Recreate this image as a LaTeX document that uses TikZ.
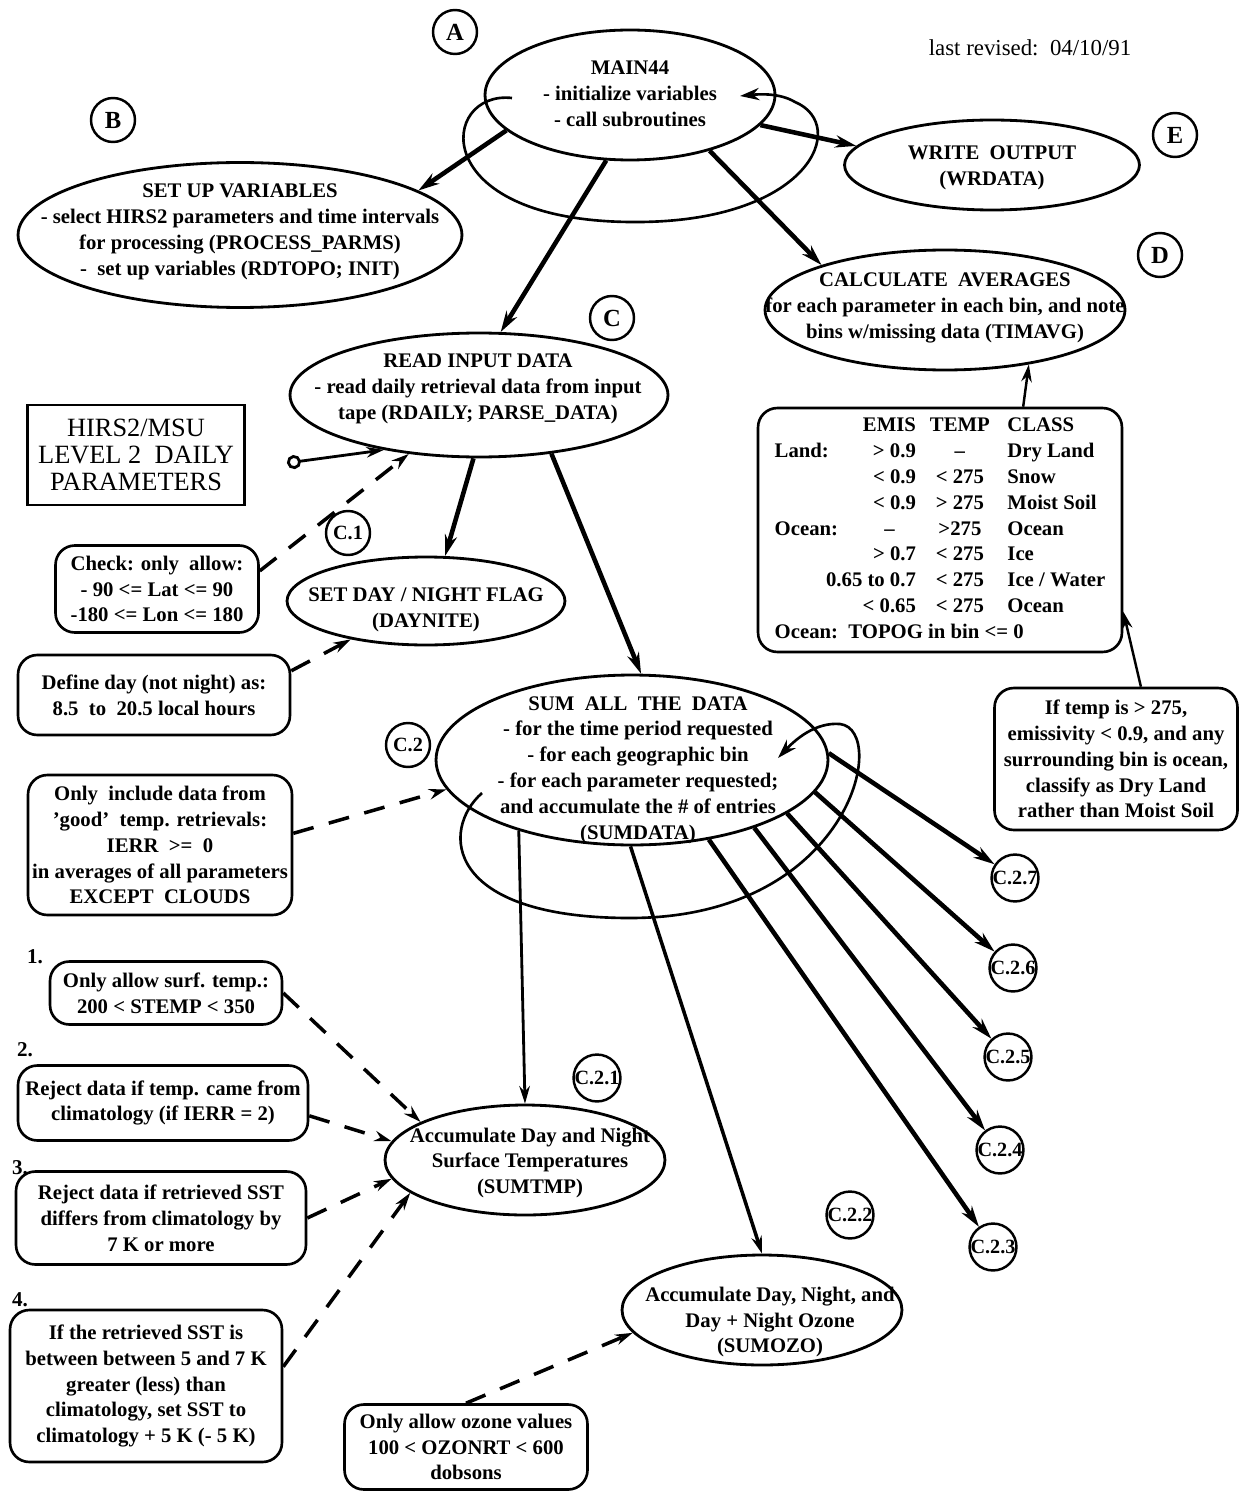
\documentclass[tikz,border=0pt]{standalone}
\usepackage{fontspec}
\setmainfont{Liberation Serif}
\usepackage{tikz}
\usetikzlibrary{shapes.geometric}
\usetikzlibrary{arrows.meta}
\tikzset{
  proc/.style 2 args={draw, ellipse, line width=1.6pt, inner sep=0pt,
    minimum width=#1, minimum height=#2},
  txt/.style={align=center, inner sep=0pt,
    font=\bfseries\fontsize{11.8}{14.7}\selectfont},
  note/.style 2 args={draw, rounded corners=11pt, line width=1.5pt, align=center,
    inner sep=0pt, minimum width=#1, minimum height=#2,
    font=\bfseries\fontsize{11.8}{14.7}\selectfont},
  src/.style={draw, line width=1.3pt, align=center, inner sep=0pt,
    minimum width=4.34cm, minimum height=2cm, font=\fontsize{15}{15.5}\selectfont},
  tag/.style={draw, circle, line width=1.4pt, inner sep=0pt, minimum size=0.88cm,
    font=\bfseries\fontsize{14}{16}\selectfont},
  subtag/.style={tag, font=\bfseries\fontsize{11.5}{14}\selectfont},
  num/.style={inner sep=0pt, font=\bfseries\fontsize{12}{14}\selectfont},
  call/.style={line width=2.6pt, -{Stealth[length=12pt,width=7pt]}},
  subcall/.style={line width=1.4pt, -{Stealth[length=10pt,width=6pt]}},
  loopcall/.style={line width=1.5pt, -{Stealth[length=11pt,width=7pt]}},
  check/.style={line width=2pt, dash pattern=on 12pt off 9pt,
    -{Stealth[length=10pt,width=6pt]}},
}

\begin{document}
\begin{tikzpicture}[x=0.02cm, y=-0.02cm]
	\useasboundingbox (0,0) rectangle (1241,1493);
	\node[tag] (tA) at (455,32) {A};
	\node[font=\fontsize{13}{15}\selectfont] (rev) at (1030,48) {last revised:\ \ 04/10/91};
	\node[proc={5.8cm}{2.6cm}] (main) at (630,95) {};
	\node[txt] (mainT) at (630,94) {MAIN44\\- initialize variables\\- call subroutines};
	\draw[loopcall] (512,98) .. controls (440,90) and (425,220) .. (630,222) .. controls (810,224) and (850,125) .. (795,102) .. controls (780,93) and (760,94) .. (740,96);
	\node[tag] (tB) at (113,120) {B};
	\node[proc={8.88cm}{2.9cm}] (setup) at (240,235) {};
	\node[txt] (setupT) at (240,232) {SET UP VARIABLES\\- select HIRS2 parameters and time intervals\\for processing (PROCESS\_PARMS)\\-\ \ set up variables (RDTOPO; INIT)};
	\node[tag] (tE) at (1175,135) {E};
	\node[proc={5.9cm}{1.8cm}] (wrout) at (992,165) {};
	\node[txt] (wroutT) at (992,168) {WRITE\ \ OUTPUT\\(WRDATA)};
	\node[tag] (tD) at (1160,255) {D};
	\node[proc={7.2cm}{2.4cm}] (avg) at (945,310) {};
	\node[txt] (avgT) at (945,308) {CALCULATE\ \ AVERAGES\\for each parameter in each bin, and note\\bins w/missing data (TIMAVG)};
	\node[tag] (tC) at (612,318) {C};
	\node[proc={7.56cm}{2.48cm}] (readin) at (479,395) {};
	\node[txt] (readinT) at (478,389) {READ INPUT DATA\\- read daily retrieval data from input\\tape (RDAILY; PARSE\_DATA)};
	\node[src] (hirs) at (136,455) {HIRS2/MSU\\LEVEL 2\ \ DAILY\\PARAMETERS};
	\coordinate (tape) at (287,463);
	\node[note={7.28cm}{4.88cm}] (emis) at (940,530) {\begin{tabular}{@{}l@{\hspace{14pt}}r@{\hspace{8pt}}c@{\hspace{10pt}}l@{}}
		& EMIS & TEMP & CLASS\\
		Land: & > 0.9 & -- & Dry Land\\
		& < 0.9 & < 275 & Snow\\
		& < 0.9 & > 275 & Moist Soil\\
		Ocean: & --\hspace{12pt} & >275 & Ocean\\
		& > 0.7 & < 275 & Ice\\
		\multicolumn{2}{@{}r@{\hspace{8pt}}}{0.65 to 0.7} & < 275 & Ice / Water\\
		& < 0.65 & < 275 & Ocean\\
		\multicolumn{4}{@{}l@{}}{Ocean:\ \ TOPOG in bin <= 0}
	\end{tabular}};
	\node[note={4.86cm}{2.84cm}] (dryland) at (1116,759) {If temp is > 275,\\emissivity < 0.9, and any\\surrounding bin is ocean,\\classify as Dry Land\\rather than Moist Soil};
	\node[subtag] (tC1) at (348,533) {C.1};
	\node[proc={5.56cm}{1.76cm}] (daynite) at (426,601) {};
	\node[txt] (dayniteT) at (426,610) {SET DAY / NIGHT FLAG\\(DAYNITE)};
	\node[note={4.06cm}{1.74cm}] (chk) at (157,589) {Check: only\ \ allow:\\- 90 <= Lat <= 90\\-180 <= Lon <= 180};
	\node[note={5.44cm}{1.6cm}] (dayd) at (154,695) {Define day (not night) as:\\8.5\ \ to\ \ 20.5 local hours};
	\node[subtag] (tC2) at (408,745) {C.2};
	\node[proc={7.84cm}{3.4cm}] (sum) at (632,760) {};
	\node[txt] (sumT) at (638,770) {SUM\ \ ALL\ \ THE\ \ DATA\\- for the time period requested\\- for each geographic bin\\- for each parameter requested;\\and accumulate the \# of entries\\(SUMDATA)};
	\node[note={5.28cm}{2.8cm}] (good) at (160,845) {Only\ \ include data from\\'good'\ \ temp. retrievals:\\IERR\ \ >=\ \ 0\\in averages of all parameters\\EXCEPT\ \ CLOUDS};
	\node[subtag] (tC27) at (1015,878) {C.2.7};
	\node[subtag] (tC26) at (1013,968) {C.2.6};
	\node[subtag] (tC25) at (1008,1057) {C.2.5};
	\node[subtag] (tC24) at (1000,1150) {C.2.4};
	\node[subtag] (tC23) at (993,1247) {C.2.3};
	\node[subtag] (tC21) at (597,1078) {C.2.1};
	\node[subtag] (tC22) at (850,1215) {C.2.2};
	\node[proc={5.6cm}{2.2cm}] (sumtmp) at (525,1160) {};
	\node[txt] (sumtmpT) at (530,1163) {Accumulate Day and Night\\Surface Temperatures\\(SUMTMP)};
	\node[proc={5.6cm}{2.2cm}] (sumozo) at (762,1310) {};
	\node[txt] (sumozoT) at (770,1322) {Accumulate Day, Night, and\\Day + Night Ozone\\(SUMOZO)};
	\node[num] (n1) at (35,957) {1.};
	\node[note={4.64cm}{1.26cm}] (stemp) at (166,993) {Only allow surf. temp.:\\200 < STEMP < 350};
	\node[num] (n2) at (25,1050) {2.};
	\node[note={5.8cm}{1.5cm}] (clim) at (163,1103) {Reject data if temp. came from\\climatology (if IERR = 2)};
	\node[num] (n3) at (20,1168) {3.};
	\node[note={5.8cm}{1.86cm}] (sst) at (161,1218) {Reject data if retrieved SST\\differs from climatology by\\7 K or more};
	\node[num] (n4) at (20,1300) {4.};
	\node[note={5.44cm}{3.04cm}] (relax) at (146,1386) {If the retrieved SST is\\between between 5 and 7 K\\greater (less) than\\climatology, set SST to\\climatology + 5 K (- 5 K)};
	\node[note={4.86cm}{1.7cm}] (ozone) at (466,1447) {Only allow ozone values\\100 < OZONRT < 600\\dobsons};
	\draw[call] (main.-164) -- (setup.14);
	\draw[call] (main.-13) -- (wrout.172);
	\draw[call] (main.-35) -- (avg.160);
	\draw[call] (main.-110) -- (readin.71);
	\draw[subcall] (emis.56) -- (avg.-33);
	\draw[subcall] (dryland.71) -- (emis.-24);
	\draw[line width=1.6pt, {Circle[open,length=8pt,width=8pt]}-{Stealth[length=10pt,width=6pt]}] (tape) -- (readin.-150);
	\draw[call] (readin.-95) -- (daynite.67);
	\draw[call] (readin.-39) -- (sum.84);
	\draw[loopcall] (482,793) .. controls (440,830) and (445,918) .. (630,918) .. controls (850,918) and (890,730) .. (840,724) .. controls (815,722) and (795,740) .. (778,758);
	\draw[call] (sum.2) -- (tC27);
	\draw[call] (sum.-10) -- (tC26);
	\draw[call] (sum.-19) -- (tC25);
	\draw[call] (sum.-29) -- (tC24);
	\draw[call] (sum.-46) -- (tC23);
	\draw[subcall, line width=2pt] (sum.-91) -- (sumozo.north);
	\draw[subcall, line width=1.6pt] (sum.-148) -- (sumtmp.north);
	\draw[check] (chk.10) -- (readin.-140);
	\draw[check] (dayd.10) -- (daynite.-153);
	\draw[check] (good.5) -- (sum.-171);
	\draw[check] (stemp.east) -- (sumtmp.160);
	\draw[check] (clim.-5) -- (sumtmp.172);
	\draw[check] (sst.east) -- (sumtmp.-172);
	\draw[check] (relax.8) -- (sumtmp.-164);
	\draw[check] (ozone.north) -- (sumozo.-170);
\end{tikzpicture}
\end{document}
